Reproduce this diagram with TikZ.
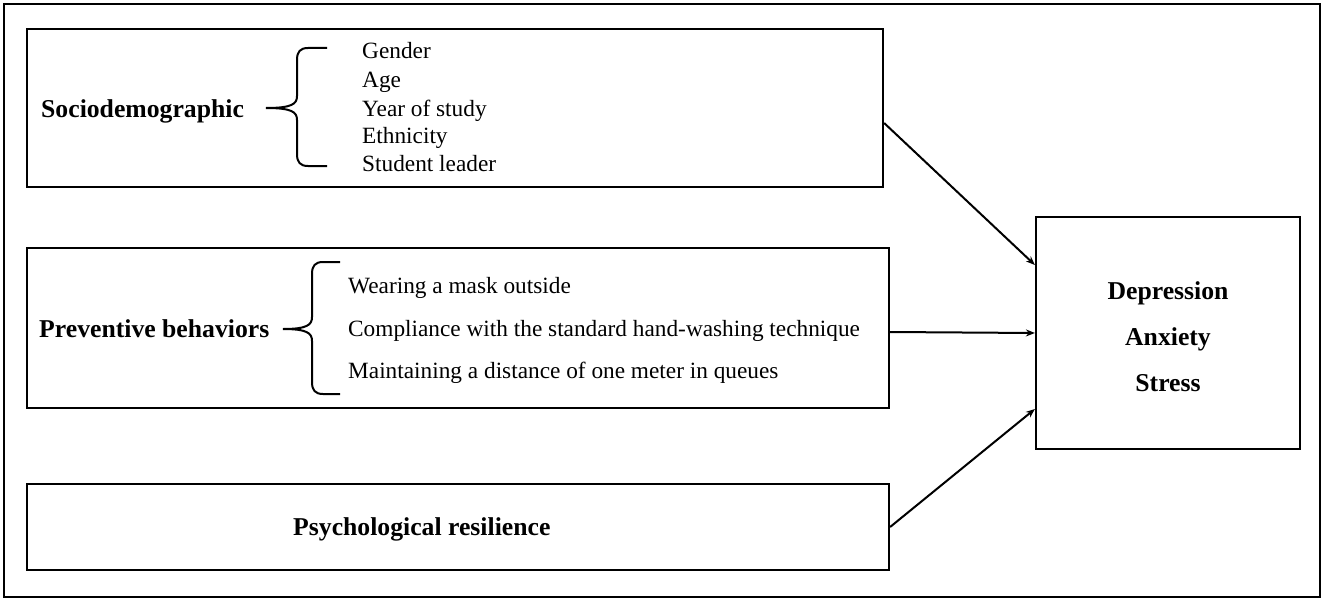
\documentclass[tikz,border=0pt]{standalone}
\usepackage{fontspec}
\setmainfont{Liberation Serif}
\usetikzlibrary{arrows.meta}
\begin{document}
\begin{tikzpicture}[x=1pt,y=-1pt,
  box/.style={draw,line width=2.2pt,inner sep=0pt,minimum width=#1},
  lbl/.style={font=\fontsize{23.3}{23.3}\selectfont,inner sep=0pt,anchor=base west},
  head/.style={font=\bfseries\fontsize{25.7}{25.7}\selectfont,inner sep=0pt},
  brc/.style={line width=2pt},
  arr/.style={line width=2pt,-{Stealth[length=9pt,width=7pt]}}]
\useasboundingbox (0,0) rectangle (1325,602);
\draw[line width=2pt] (4,4) rectangle (1320,597);
% boxes
\node[box=856pt,minimum height=158pt] (b1) at (455,108) {};
\node[box=862pt,minimum height=160pt] (b2) at (458,328) {};
\node[box=862pt,minimum height=86pt] (b3) at (458,527) {};
\node[box=264pt,minimum height=232pt] (out) at (1168,333) {};
% headings
\node[head,anchor=base west] (h1) at (41,117) {Sociodemographic};
\node[head,anchor=base west] (h2) at (39,337) {Preventive behaviors};
\node[head,anchor=base west] (h3) at (293,535) {Psychological resilience};
\node[head,anchor=base] (o1) at (1168,299) {Depression};
\node[head,anchor=base] (o2) at (1168,345) {Anxiety};
\node[head,anchor=base] (o3) at (1168,391) {Stress};
% lists
\node[lbl] (g1) at (362,59) {Gender};
\node[lbl] (g2) at (362,88) {Age};
\node[lbl] (g3) at (362,116) {Year of study};
\node[lbl] (g4) at (362,143) {Ethnicity};
\node[lbl] (g5) at (362,171) {Student leader};
\node[lbl] (p1) at (348,293) {Wearing a mask outside};
\node[lbl] (p2) at (348,336) {Compliance with the standard hand-washing technique};
\node[lbl] (p3) at (348,378) {Maintaining a distance of one meter in queues};
% braces
\draw[brc] (327,48) -- (308,48) .. controls (300,48) and (297,52) .. (297,60) -- (297,96)
  .. controls (297,104) and (292,108) .. (266,108)
  .. controls (292,108) and (297,112) .. (297,120) -- (297,154)
  .. controls (297,162) and (300,166) .. (308,166) -- (327,166);
\draw[brc] (340,262) -- (323,262) .. controls (315,262) and (312,266) .. (312,274) -- (312,317)
  .. controls (312,325) and (307,329) .. (283,329)
  .. controls (307,329) and (312,333) .. (312,341) -- (312,382)
  .. controls (312,390) and (315,394) .. (323,394) -- (340,394);
% arrows
\draw[arr] (b1.east |- 0,123) -- (out.west |- 0,265);
\draw[arr] (b2.east |- 0,332) -- (out.west |- 0,333);
\draw[arr] (b3.east |- 0,527) -- (out.west |- 0,409);
\end{tikzpicture}
\end{document}
